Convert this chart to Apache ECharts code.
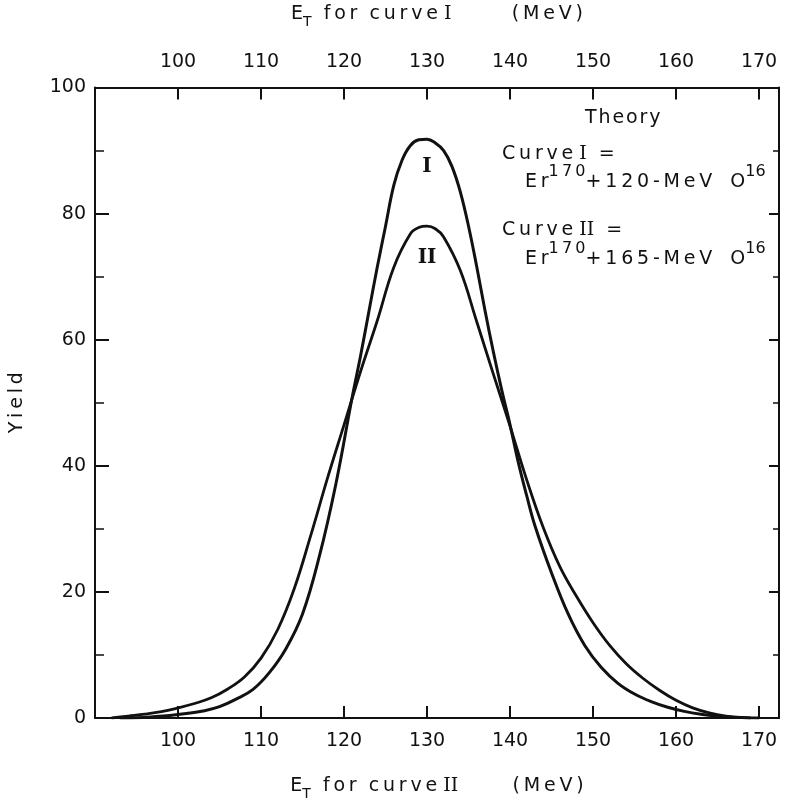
<!DOCTYPE html>
<html>
<head>
<meta charset="utf-8">
<script src="https://cdn.jsdelivr.net/npm/echarts@6/dist/echarts.min.js"></script>
<style>
  html, body { margin: 0; padding: 0; background: #ffffff; }
  #chart { width: 785px; height: 806px; }
</style>
</head>
<body>
<div id="chart"></div>
<script>
// ---- Data ----
const xTickLabels = [100, 110, 120, 130, 140, 150, 160, 170];
const yTickLabels = [0, 20, 40, 60, 80, 100];

// Curve I  (Er170 + 120-MeV O16)
const curveIx = [93, 95, 97, 99, 101, 103, 105, 107, 109, 111, 113, 115, 117, 119, 121, 122, 123, 124, 125, 126, 127, 128, 129, 130, 131, 132, 133, 134, 135, 136, 137, 138, 139, 140, 141, 142, 143, 145, 147, 149, 151, 153, 155, 157, 159, 161, 163, 165, 167, 169];
const curveIy = [0, 0.05, 0.2, 0.4, 0.7, 1.1, 1.8, 3.0, 4.5, 7.2, 11.0, 16.5, 25.5, 37, 51, 57.5, 64.5, 71.5, 78, 84.5, 88.5, 90.8, 91.7, 91.8, 91.2, 90.0, 87.5, 83.5, 78, 71.5, 64.5, 58, 52, 46.5, 40.5, 35.3, 30.5, 23, 16.5, 11.5, 8.0, 5.5, 3.8, 2.6, 1.7, 1.05, 0.6, 0.3, 0.1, 0];

// Curve II (Er170 + 165-MeV O16)
const curveIIx = [92, 94, 96, 98, 100, 102, 104, 106, 108, 110, 112, 114, 116, 118, 120, 122, 124, 126, 128, 129, 130, 131, 132, 134, 136, 138, 140, 142, 144, 146, 148, 150, 152, 154, 156, 158, 160, 162, 164, 166, 168, 170];
const curveIIy = [0, 0.3, 0.6, 1.0, 1.6, 2.3, 3.2, 4.6, 6.5, 9.5, 14, 20.5, 29, 38, 46.5, 55, 63, 71.5, 76.8, 77.8, 78, 77.6, 76.3, 71, 62.8, 54.5, 46.3, 37.8, 30.2, 24, 19.3, 15.1, 11.5, 8.6, 6.3, 4.4, 2.8, 1.6, 0.8, 0.3, 0.05, 0];

// curve label anchor values
const labelI = [130, 87.4];
const labelII = [130, 73];

// axis range (both energy axes share the frame)
const xMin = 90, xMax = 172.4;

// ---- Chart ----
const FONT = 'DejaVu Sans';
const SERIF = 'DejaVu Serif';
const INK = '#111111';
const TS = '\u2009'; // thin space (letter spacing)
const HS = '\u200A'; // hair space (tight letter spacing)

const pairs = (xs, ys) => xs.map((x, i) => [x, ys[i]]);
const xFmt = v => (Math.abs(v - Math.round(v)) < 1e-6 && xTickLabels.includes(Math.round(v))) ? String(Math.round(v)) : '';
const yFmt = v => yTickLabels.includes(v) ? String(v) : '';
const spaced = (s, sp) => s.split('').join(sp || TS);

const titleRich = {
  t: { color: INK, fontFamily: FONT, fontSize: 19 },
  sub: { color: INK, fontFamily: FONT, fontSize: 14, padding: [16, 0, 0, 0] },
  rom: { color: INK, fontFamily: SERIF, fontSize: 19 }
};
const axisTitle = roman =>
  '{t|E}{sub|T}{t|  ' + spaced('for') + '  ' + spaced('curve') + ' }{rom|' + roman + '}{t|' +
  (roman === 'I' ? '          ' : '         ') + spaced('(MeV)') + '}';

function xAxisDef(pos, title, labelMargin, nameGap) {
  return {
    type: 'value', position: pos, min: xMin, max: xMax, interval: 10,
    splitLine: { show: false },
    axisLine: { show: true, onZero: false, lineStyle: { color: INK, width: 2 } },
    axisTick: { show: true, inside: true, length: 12, lineStyle: { color: INK, width: 2 } },
    axisLabel: { formatter: xFmt, color: INK, fontFamily: FONT, fontSize: 19, margin: labelMargin, showMaxLabel: false, showMinLabel: false },
    name: title, nameLocation: 'middle', nameGap: nameGap,
    nameTextStyle: { color: INK, fontFamily: FONT, fontSize: 19, rich: titleRich }
  };
}

const supText = (pre, num) =>
  '{t|' + spaced('Er') + '}{s|' + spaced('170') + '}{t|' + spaced('+' + num + '-MeV') + '   O}{s|16}';
const supRich = {
  t: { fill: INK, fontFamily: FONT, fontSize: 19, padding: [10, 0, 0, 0] },
  s: { fill: INK, fontFamily: FONT, fontSize: 16, padding: [0, 0, 10, 0] }
};
const curveRich = {
  t: { fill: INK, fontFamily: FONT, fontSize: 19 },
  r: { fill: INK, fontFamily: SERIF, fontSize: 19 }
};

const option = {
  backgroundColor: '#ffffff',
  animation: false,
  grid: { left: 92, right: 6, top: 78, bottom: 76, containLabel: false },
  xAxis: [
    xAxisDef('bottom', axisTitle('II'), 14, 53),
    xAxisDef('top', axisTitle('I'), 16, 58)
  ],
  yAxis: [
    {
      type: 'value', min: 0, max: 100, interval: 20, position: 'left',
      splitLine: { show: false },
      axisLine: { show: true, lineStyle: { color: INK, width: 2 } },
      axisTick: { show: true, inside: true, length: 14, lineStyle: { color: INK, width: 2 } },
      minorTick: { show: true, splitNumber: 2, length: 9, lineStyle: { color: INK, width: 1.5 } },
      axisLabel: { formatter: yFmt, color: INK, fontFamily: FONT, fontSize: 19, margin: 9 },
      name: spaced('Yield'), nameLocation: 'middle', nameGap: 68,
      nameTextStyle: { color: INK, fontFamily: FONT, fontSize: 19 }
    },
    {
      type: 'value', min: 0, max: 100, interval: 20, position: 'right',
      splitLine: { show: false },
      axisLine: { show: true, lineStyle: { color: INK, width: 2 } },
      axisTick: { show: true, inside: true, length: 10, lineStyle: { color: INK, width: 2 } },
      minorTick: { show: true, splitNumber: 2, length: 6, lineStyle: { color: INK, width: 1.5 } },
      axisLabel: { show: false }
    }
  ],
  series: [
    {
      name: 'Curve I', type: 'line', xAxisIndex: 0, yAxisIndex: 0,
      data: pairs(curveIx, curveIy),
      showSymbol: false, smooth: 0.4,
      lineStyle: { color: INK, width: 3 },
      markPoint: {
        symbol: 'circle', symbolSize: 0, silent: true,
        label: { show: true, formatter: 'I', color: INK, fontFamily: SERIF, fontSize: 20, fontWeight: 'bold' },
        data: [{ coord: labelI }]
      }
    },
    {
      name: 'Curve II', type: 'line', xAxisIndex: 0, yAxisIndex: 0,
      data: pairs(curveIIx, curveIIy),
      showSymbol: false, smooth: 0.4,
      lineStyle: { color: INK, width: 2.8 },
      markPoint: {
        symbol: 'circle', symbolSize: 0, silent: true,
        label: { show: true, formatter: 'II', color: INK, fontFamily: SERIF, fontSize: 20, fontWeight: 'bold' },
        data: [{ coord: labelII }]
      }
    }
  ],
  graphic: [
    { type: 'text', left: 585, top: 109, style: { text: spaced('Theory', HS), fill: INK, font: '19px "DejaVu Sans"' } },
    { type: 'text', left: 502, top: 145, style: { text: '{t|' + spaced('Curve') + ' }{r|I}{t|  =}', rich: curveRich } },
    { type: 'text', left: 525, top: 164, style: { text: supText('Er', '120'), rich: supRich } },
    { type: 'text', left: 502, top: 221, style: { text: '{t|' + spaced('Curve') + ' }{r|II}{t|  =}', rich: curveRich } },
    { type: 'text', left: 525, top: 241, style: { text: supText('Er', '165'), rich: supRich } }
  ]
};

const chart = echarts.init(document.getElementById('chart'), null, { renderer: 'canvas' });
chart.setOption(option);
</script>
</body>
</html>
